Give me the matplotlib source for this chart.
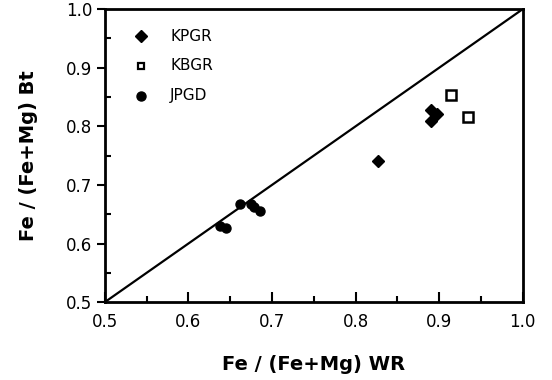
import matplotlib
matplotlib.use("Agg")
import matplotlib.pyplot as plt
from matplotlib.ticker import MultipleLocator

kpgr_x = [0.827, 0.890, 0.898, 0.890]
kpgr_y = [0.741, 0.828, 0.821, 0.809]
kbgr_x = [0.914, 0.934]
kbgr_y = [0.853, 0.816]
jpgd_x = [0.662, 0.675, 0.679, 0.686, 0.638, 0.645]
jpgd_y = [0.668, 0.668, 0.663, 0.655, 0.630, 0.626]

plt.rcParams['font.family'] = ['DejaVu Sans']
fig = plt.figure(figsize=(5.52, 3.8), dpi=100)
ax = fig.add_axes([0.190, 0.205, 0.757, 0.771])

ax.plot([0.5, 1.0], [0.5, 1.0], color='black', lw=1.6, zorder=1)
ax.plot(kpgr_x, kpgr_y, linestyle='none', marker='D', ms=6, color='black', zorder=3)
ax.plot(kbgr_x, kbgr_y, linestyle='none', marker='s', ms=6.5, mfc='white', mec='black', mew=1.8, zorder=3)
ax.plot(jpgd_x, jpgd_y, linestyle='none', marker='o', ms=6.5, color='black', zorder=3)

# legend
lx, ltx = 0.543, 0.578
ax.plot([lx], [0.954], marker='D', ms=6, color='black')
ax.plot([lx], [0.903], marker='s', ms=5, mfc='white', mec='black', mew=1.6)
ax.plot([lx], [0.852], marker='o', ms=6.5, color='black')
ax.text(ltx, 0.954, 'KPGR', va='center', ha='left', fontsize=11)
ax.text(ltx, 0.903, 'KBGR', va='center', ha='left', fontsize=11)
ax.text(ltx, 0.852, 'JPGD', va='center', ha='left', fontsize=11)

ax.set_xlim(0.5, 1.0)
ax.set_ylim(0.5, 1.0)
ax.xaxis.set_major_locator(MultipleLocator(0.1))
ax.yaxis.set_major_locator(MultipleLocator(0.1))
ax.xaxis.set_minor_locator(MultipleLocator(0.05))
ax.yaxis.set_minor_locator(MultipleLocator(0.05))
ax.xaxis.set_major_formatter(plt.FuncFormatter(lambda v, p: f"{v:.1f}"))
ax.yaxis.set_major_formatter(plt.FuncFormatter(lambda v, p: f"{v:.1f}"))
ax.tick_params(axis='x', which='major', direction='in', length=7, width=1.5, labelsize=12, pad=8)
ax.tick_params(axis='x', which='minor', direction='in', length=4, width=1.5)
ax.tick_params(axis='y', which='major', direction='out', length=6, width=1.5, labelsize=12, pad=3)
ax.tick_params(axis='y', which='minor', direction='in', length=4, width=1.5)
for s in ax.spines.values():
    s.set_linewidth(2)

ax.set_xlabel('Fe / (Fe+Mg) WR', fontsize=14, fontweight='bold', labelpad=17)
ax.set_ylabel('Fe / (Fe+Mg) Bt', fontsize=14, fontweight='bold', labelpad=20)

fig.savefig('out.png', dpi=100)
